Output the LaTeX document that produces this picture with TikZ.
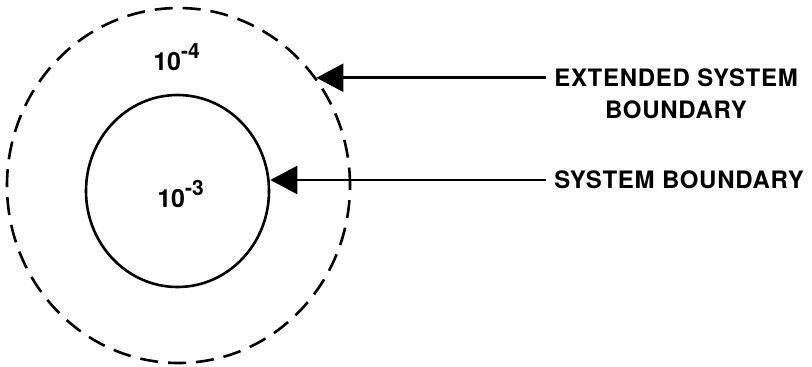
\documentclass[tikz,border=0pt]{standalone}
\usepackage{fontspec}
\setmainfont{TeX Gyre Heros}
\newfontfamily\lblfont[LetterSpace=3]{TeX Gyre Heros}
\usetikzlibrary{arrows.meta,shapes.geometric}
\newcommand\tenpow[1]{10\raisebox{12pt}{\fontsize{21}{21}\selectfont -#1}}
\begin{document}
\begin{tikzpicture}[x=1pt,y=-1pt,line width=2.6pt,
 bnd/.style={draw,ellipse,inner sep=0pt},
 lbl/.style={font=\lblfont\fontsize{24}{32}\selectfont\bfseries,align=center,anchor=west,inner xsep=7pt},
 expo/.style={font=\fontsize{25}{26}\selectfont\bfseries,anchor=base west,inner sep=0pt},
 pointer/.style={-{Triangle[length=27pt,width=28pt]}}]
\useasboundingbox (0,0) rectangle (812,367);
\node[bnd,dashed,dash pattern=on 18pt off 10pt,minimum width=343pt,minimum height=355pt] (outer) at (178.5,185.5) {};
\node[bnd,minimum width=183pt,minimum height=192pt] (inner) at (177.5,191) {};
\node[expo] (outexp) at (152,70) {\tenpow{4}};
\node[expo] (inexp) at (156,207) {\tenpow{3}};
\node[lbl] (extlbl) at (546,94) {EXTENDED SYSTEM\\BOUNDARY};
\node[lbl] (syslbl) at (546,180) {SYSTEM BOUNDARY};
\draw[pointer] (outer.38 -| extlbl.west) -- (outer.38);
\draw[pointer] (syslbl.west) -- (syslbl.west -| inner.east);
\end{tikzpicture}
\end{document}
